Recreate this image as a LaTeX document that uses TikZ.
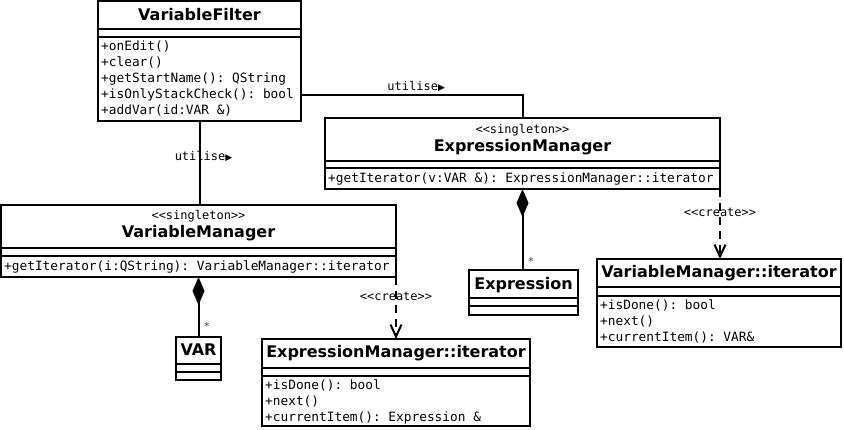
\documentclass[tikz,border=0pt]{standalone}
\usepackage{fontspec}
\setmainfont{DejaVu Sans}
\setmonofont{DejaVu Sans Mono}
\newfontfamily\symfont{DejaVu Sans}
\usetikzlibrary{arrows.meta}
\tikzset{
  umlclass/.style = {draw, line width=2pt, anchor=north west, inner sep=0pt, outer sep=0pt},
  classname/.style = {font=\bfseries\fontsize{16}{18}\selectfont, inner sep=0pt},
  stereotype/.style = {font=\ttfamily\fontsize{12}{14}\selectfont, inner sep=0pt},
  operations/.style = {font=\ttfamily\fontsize{12.8}{16}\selectfont, anchor=north west, align=left, inner sep=0pt},
  lbl/.style = {font=\ttfamily\fontsize{12}{14}\selectfont, inner sep=0pt},
  mult/.style = {font=\ttfamily\fontsize{11}{11}\selectfont, inner sep=0pt, text=black!70},
  assoc/.style = {line width=2pt},
  compose/.style = {line width=2pt, {Diamond[length=28pt,width=12pt]}-},
  create/.style = {line width=2pt, dash pattern=on 8pt off 6pt, -{Straight Barb[length=12pt,width=11pt]}}
}
\newcommand{\compart}[2]{\draw[line width=2pt] ([yshift=-#2pt]#1.north west) -- ([yshift=-#2pt]#1.north east);}
\newcommand{\uses}{utilise{\symfont\fontsize{9}{9}\selectfont ▶}}

\begin{document}
\begin{tikzpicture}[x=1pt,y=-1pt]
    \useasboundingbox (0,0) rectangle (844,430);
    % class boxes
    \node[umlclass, minimum width=203pt, minimum height=120pt] (vf) at (98,1) {};
    \node[umlclass, minimum width=395pt, minimum height=71pt] (em) at (325,118) {};
    \node[umlclass, minimum width=395pt, minimum height=72pt] (vm) at (1,205) {};
    \node[umlclass, minimum width=45pt, minimum height=43pt] (var) at (176,337) {};
    \node[umlclass, minimum width=109pt, minimum height=45pt] (expr) at (469,270) {};
    \node[umlclass, minimum width=268pt, minimum height=87pt] (emit) at (262,339) {};
    \node[umlclass, minimum width=244pt, minimum height=88pt] (vmit) at (597,259) {};
    % VariableFilter
    \node[classname] (vf-name) at ([yshift=-14pt]vf.north) {VariableFilter};
    \compart{vf}{28} \compart{vf}{36}
    \node[operations] (vf-ops) at ([shift={(3pt,-40pt)}]vf.north west)
      {+onEdit()\\+clear()\\+getStartName(): QString\\+isOnlyStackCheck(): bool\\+addVar(id:VAR \&)};
    % ExpressionManager
    \node[stereotype] (em-st) at ([yshift=-12pt]em.north) {<<singleton>>};
    \node[classname] (em-name) at ([yshift=-29pt]em.north) {ExpressionManager};
    \compart{em}{43} \compart{em}{50}
    \node[operations] (em-ops) at ([shift={(3pt,-55pt)}]em.north west)
      {+getIterator(v:VAR \&): ExpressionManager::iterator};
    % VariableManager
    \node[stereotype] (vm-st) at ([yshift=-11pt]vm.north) {<<singleton>>};
    \node[classname] (vm-name) at ([yshift=-28pt]vm.north) {VariableManager};
    \compart{vm}{43} \compart{vm}{51}
    \node[operations] (vm-ops) at ([shift={(3pt,-56pt)}]vm.north west)
      {+getIterator(i:QString): VariableManager::iterator};
    % VAR
    \node[classname] (var-name) at ([yshift=-13pt]var.north) {VAR};
    \compart{var}{27} \compart{var}{35}
    % Expression
    \node[classname] (expr-name) at ([yshift=-15pt]expr.north) {Expression};
    \compart{expr}{28} \compart{expr}{36}
    % ExpressionManager::iterator
    \node[classname] (emit-name) at ([yshift=-14pt]emit.north) {ExpressionManager::iterator};
    \compart{emit}{29} \compart{emit}{37}
    \node[operations] (emit-ops) at ([shift={(3pt,-41pt)}]emit.north west)
      {+isDone(): bool\\+next()\\+currentItem(): Expression \&};
    % VariableManager::iterator
    \node[classname] (vmit-name) at ([yshift=-14pt]vmit.north) {VariableManager::iterator};
    \compart{vmit}{28} \compart{vmit}{37}
    \node[operations] (vmit-ops) at ([shift={(3pt,-41pt)}]vmit.north west)
      {+isDone(): bool\\+next()\\+currentItem(): VAR\&};
    % relations
    \draw[assoc] ([yshift=-94pt]vf.north east) -| (em.north)
      node[lbl, pos=0.26, above=2pt] (use-em) {\uses};
    \draw[assoc] (vf.south) -- (vf.south |- vm.north)
      node[lbl, pos=0.42, xshift=4pt] (use-vm) {\uses};
    \draw[compose] (vm.south) -- (vm.south |- var.north)
      node[mult, pos=0.82, right=4pt] (var-mult) {*};
    \draw[compose] (em.south) -- (em.south |- expr.north)
      node[mult, pos=0.89, right=4pt] (expr-mult) {*};
    \draw[create] (vm.south east) -- (vm.south east |- emit.north)
      node[lbl, pos=0.32] (new-emit) {<<create>>};
    \draw[create] (em.south east) -- (em.south east |- vmit.north)
      node[lbl, pos=0.34] (new-vmit) {<<create>>};
\end{tikzpicture}
\end{document}
